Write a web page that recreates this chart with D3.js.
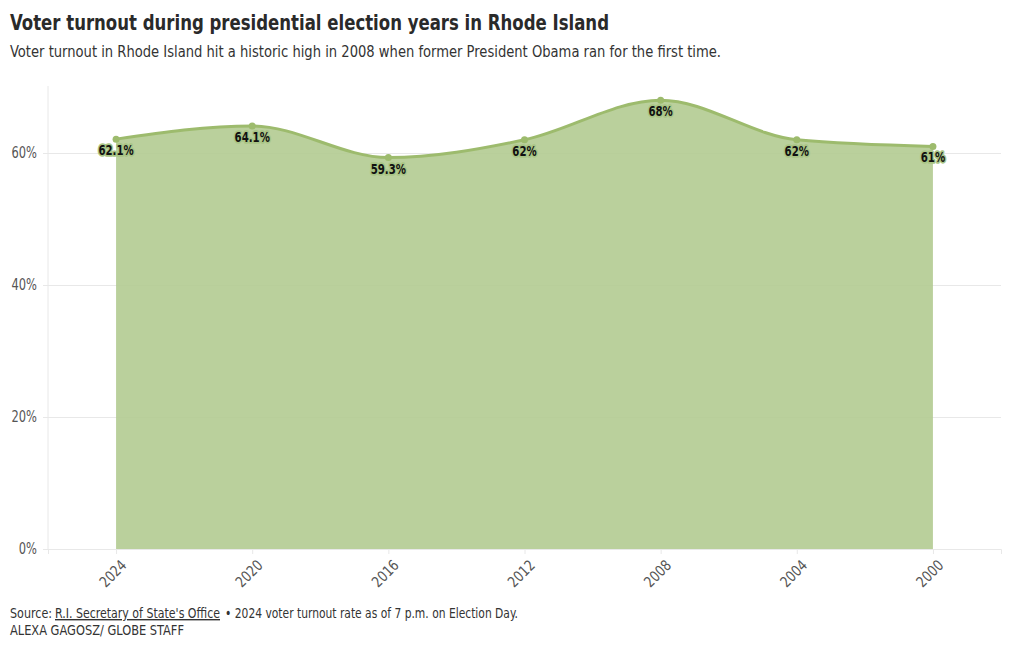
<!DOCTYPE html>
<html><head><meta charset="utf-8">
<script src="https://cdn.jsdelivr.net/npm/d3@7"></script>
<style>
body{margin:0;background:#fff;}
svg text{font-family:"DejaVu Sans Condensed","Liberation Sans Narrow","Roboto Condensed",sans-serif;font-stretch:condensed;}
</style></head><body>
<svg id="c" width="1020" height="650"></svg>
<script>
const years = ["2024","2020","2016","2012","2008","2004","2000"];
const turnout = [62.1, 64.1, 59.3, 62, 68, 62, 61];
const labels = ["62.1%","64.1%","59.3%","62%","68%","62%","61%"];
const yTicks = [0, 20, 40, 60];

const svg = d3.select("#c");
const W = 1020, H = 650;
const m = {l:48, r:19, t:87, b:101};
const x = d3.scalePoint().domain(years).range([m.l, W - m.r]).padding(0.5);
const y = d3.scaleLinear().domain([0, 70]).range([H - m.b, m.t]);

function fit(sel, len) {
  sel.attr("textLength", len).attr("lengthAdjust", "spacingAndGlyphs");
  return sel;
}
function squeeze(sel, f) {
  sel.each(function() {
    const n = this.getComputedTextLength();
    d3.select(this).attr("textLength", n * f).attr("lengthAdjust", "spacingAndGlyphs");
  });
}

fit(svg.append("text").attr("x", 10).attr("y", 30).attr("font-size", 22).attr("font-weight", "bold")
  .attr("fill", "#2a2a2a").text("Voter turnout during presidential election years in Rhode Island"), 599);
fit(svg.append("text").attr("x", 10).attr("y", 57).attr("font-size", 16).attr("fill", "#333")
  .text("Voter turnout in Rhode Island hit a historic high in 2008 when former President Obama ran for the first time."), 711);

// grid
const gy = svg.append("g").attr("transform", `translate(${m.l},0)`)
  .call(d3.axisLeft(y).tickValues(yTicks).tickSizeInner(-(W - m.l - m.r)).tickSizeOuter(0).tickFormat(d => d + "%").tickPadding(11));
gy.select(".domain").remove();
gy.selectAll(".tick line").attr("stroke", "#e8e8e8").attr("x1", -5);
gy.selectAll(".tick text").attr("font-size", 15).attr("fill", "#555").call(squeeze, 0.85);
svg.append("line").attr("x1", m.l).attr("x2", m.l).attr("y1", m.t - 1).attr("y2", H - m.b).attr("stroke", "#e8e8e8");

const data = years.map((d, i) => ({year: d, v: turnout[i], label: labels[i]}));
const area = d3.area().x(d => x(d.year)).y0(y(0)).y1(d => y(d.v)).curve(d3.curveMonotoneX);
const line = d3.line().x(d => x(d.year)).y(d => y(d.v)).curve(d3.curveMonotoneX);
svg.append("path").datum(data).attr("d", area).attr("fill", "#b0ca8e").attr("opacity", 0.88);
svg.append("path").datum(data).attr("d", line).attr("fill", "none").attr("stroke", "#9dbb6d").attr("stroke-width", 3);
svg.selectAll("circle.pt").data(data).join("circle").attr("class", "pt")
  .attr("cx", d => x(d.year)).attr("cy", d => y(d.v)).attr("r", 3.5).attr("fill", "#9dbb6d");
svg.selectAll("text.lbl").data(data).join("text").attr("class", "lbl")
  .attr("x", d => x(d.year)).attr("y", d => y(d.v) + 16).attr("text-anchor", "middle")
  .attr("font-size", 14.5).attr("font-weight", "bold").attr("fill", "#111")
  .attr("stroke", "#a9c585").attr("stroke-width", 3.5).attr("paint-order", "stroke").attr("stroke-linejoin", "round")
  .text(d => d.label).call(squeeze, 0.78);

// x axis
const gx = svg.append("g").attr("transform", `translate(0,${H - m.b})`)
  .call(d3.axisBottom(x).tickSize(5).tickPadding(6));
gx.select(".domain").attr("stroke", "#e8e8e8");
gx.selectAll(".tick line").attr("stroke", "#e8e8e8");
gx.selectAll(".tick text").attr("font-size", 15).attr("fill", "#555")
  .attr("text-anchor", "end").attr("transform", "rotate(-45)").attr("dx", "-0.3em").attr("dy", "0.6em")
  .call(squeeze, 0.9);

fit(svg.append("text").attr("x", 10).attr("y", 618).attr("font-size", 14).attr("fill", "#333").text("Source:"), 42);
fit(svg.append("text").attr("x", 55).attr("y", 618).attr("font-size", 14).attr("fill", "#333")
  .attr("text-decoration", "underline").text("R.I. Secretary of State's Office"), 165);
fit(svg.append("text").attr("x", 225).attr("y", 618).attr("font-size", 14).attr("fill", "#333")
  .text("\u2022 2024 voter turnout rate as of 7 p.m. on Election Day."), 293);
fit(svg.append("text").attr("x", 10).attr("y", 635).attr("font-size", 14).attr("fill", "#333").text("ALEXA GAGOSZ/ GLOBE STAFF"), 174);
</script></body></html>
